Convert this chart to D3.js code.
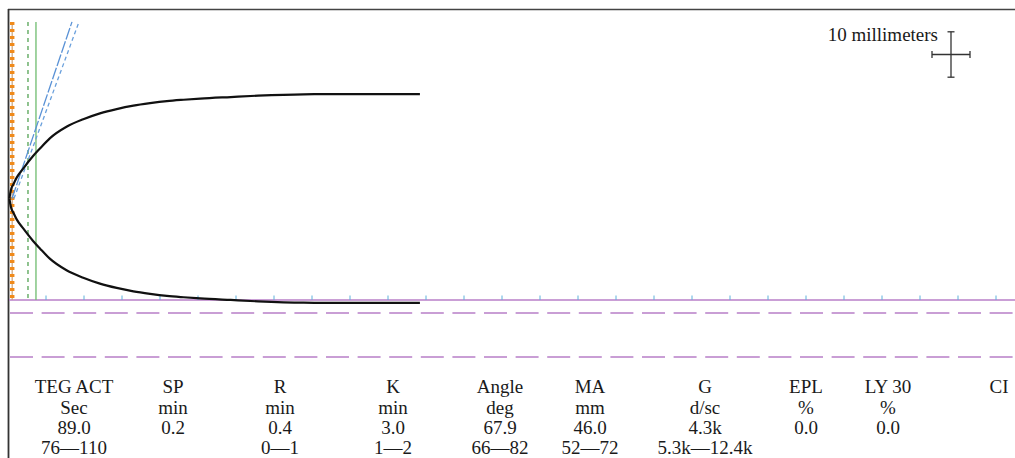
<!DOCTYPE html>
<html><head><meta charset="utf-8">
<script src="https://cdn.jsdelivr.net/npm/d3@7"></script>
<style>
html,body{margin:0;padding:0;background:#fff;}
svg{display:block;}
text{font-family:"Liberation Serif","Times New Roman",serif;fill:#1a1a1a;}
</style></head>
<body>
<svg id="chart" width="1015" height="458"></svg>
<script>
// ---- data ----
const times = [0.18, 0.4, 0.7, 1.14, 2.0, 3.3, 4.2, 5.5, 7.7, 9.9, 12.1, 14.3, 16.5, 18.7, 20.9, 23.1, 25.3, 29.3, 32.9, 38.9, 45.0, 54.2];
const amplitude = [0, 4.0, 6.2, 9.2, 13.2, 18.7, 22.0, 26.5, 31.6, 34.9, 37.5, 39.4, 40.9, 42.0, 42.9, 43.5, 44.0, 44.7, 45.3, 45.9, 46.0, 46.0];
const markerTimes = [0.55, 2.63, 3.68];            // R, K-dashed, K-solid markers
const tangentStart = [0.53, 0.79];                // time where angle lines start
const tangentEnd = [8.42, 9.34];                  // time where angle lines end
const tangentTop = 38.9;                          // mm reached by angle lines
const tickTimes = d3.range(5, 131, 5);
const paramNames = ["TEG ACT", "SP", "R", "K", "Angle", "MA", "G", "EPL", "LY 30", "CI"];
const paramUnits = ["Sec", "min", "min", "min", "deg", "mm", "d/sc", "%", "%", ""];
const paramValues = ["89.0", "0.2", "0.4", "3.0", "67.9", "46.0", "4.3k", "0.0", "0.0", ""];
const paramRanges = ["76\u2014110", "", "0\u20141", "1\u20142", "66\u201482", "52\u201472", "5.3k\u201412.4k", "", "", ""];
const scaleLabel = "10 millimeters";

// ---- scales ----
const svg = d3.select("#chart");
const x = d3.scaleLinear().domain([0, 5]).range([8, 46]);
const y = d3.scaleLinear().domain([-10, 10]).range([198.5 + 45.4, 198.5 - 45.4]);
const baseY = 300;
const W = 1015;

// frame
svg.append("line").attr("x1", 8).attr("x2", W).attr("y1", 9.5).attr("y2", 9.5)
  .attr("stroke", "#444").attr("stroke-width", 1.5);
svg.append("line").attr("x1", 8.5).attr("x2", 8.5).attr("y1", 9).attr("y2", 458)
  .attr("stroke", "#333").attr("stroke-width", 1.8);

// baseline and dashed guide lines
const purple = "#b87fc8";
svg.append("line").attr("x1", 9).attr("x2", W).attr("y1", baseY).attr("y2", baseY)
  .attr("stroke", purple).attr("stroke-width", 1.4);
[313, 357].forEach(yy => {
  svg.append("line").attr("x1", 10).attr("x2", W).attr("y1", yy).attr("y2", yy)
    .attr("stroke", purple).attr("stroke-width", 1.3).attr("stroke-dasharray", "23,8.6");
});
// ticks
svg.append("g").selectAll("line").data(tickTimes).join("line")
  .attr("x1", d => x(d)).attr("x2", d => x(d)).attr("y1", baseY - 4.5).attr("y2", baseY)
  .attr("stroke", "#5fb0dc").attr("stroke-width", 1);

// marker vertical lines
const yTop = y(tangentTop);
svg.append("line").attr("x1", x(markerTimes[0])).attr("x2", x(markerTimes[0])).attr("y1", yTop).attr("y2", baseY)
  .attr("stroke", "#c9a27a").attr("stroke-width", 1.2);
svg.append("line").attr("x1", x(markerTimes[0])).attr("x2", x(markerTimes[0])).attr("y1", yTop).attr("y2", baseY)
  .attr("stroke", "#f08a1a").attr("stroke-width", 4.5).attr("stroke-dasharray", "3,4");
svg.append("line").attr("x1", x(markerTimes[1])).attr("x2", x(markerTimes[1])).attr("y1", yTop).attr("y2", baseY)
  .attr("stroke", "#74b474").attr("stroke-width", 1.6).attr("stroke-dasharray", "4,4");
svg.append("line").attr("x1", x(markerTimes[2])).attr("x2", x(markerTimes[2])).attr("y1", yTop).attr("y2", baseY)
  .attr("stroke", "#78c078").attr("stroke-width", 1.4);

// angle tangent lines
svg.append("line").attr("x1", x(tangentStart[0])).attr("y1", y(0)).attr("x2", x(tangentEnd[0])).attr("y2", y(tangentTop))
  .attr("stroke", "#5a92d6").attr("stroke-width", 1.3).attr("stroke-dasharray", "12,2");
svg.append("line").attr("x1", x(tangentStart[1])).attr("y1", y(0)).attr("x2", x(tangentEnd[1])).attr("y2", y(tangentTop))
  .attr("stroke", "#6aa0dc").attr("stroke-width", 1.3).attr("stroke-dasharray", "4,3");

// TEG trace
const pts = times.map((t, i) => ({t, a: amplitude[i]}));
const upper = d3.line().x(d => x(d.t)).y(d => y(d.a / 2)).curve(d3.curveMonotoneX);
const lower = d3.line().x(d => x(d.t)).y(d => y(-d.a / 2)).curve(d3.curveMonotoneX);
svg.append("path").attr("d", upper(pts)).attr("fill", "none").attr("stroke", "#111").attr("stroke-width", 2.2);
svg.append("path").attr("d", lower(pts)).attr("fill", "none").attr("stroke", "#111").attr("stroke-width", 2.2);

// scale bar
const cx = 951, cy = 54.5;
const vLen = y(0) - y(10), hLen = x(5) - x(0);
const sb = svg.append("g").attr("stroke", "#333").attr("stroke-width", 1.3);
sb.append("line").attr("x1", cx).attr("x2", cx).attr("y1", cy - vLen / 2).attr("y2", cy + vLen / 2);
sb.append("line").attr("x1", cx - 3.5).attr("x2", cx + 3.5).attr("y1", cy - vLen / 2).attr("y2", cy - vLen / 2);
sb.append("line").attr("x1", cx - 3.5).attr("x2", cx + 3.5).attr("y1", cy + vLen / 2).attr("y2", cy + vLen / 2);
sb.append("line").attr("x1", cx - hLen / 2).attr("x2", cx + hLen / 2).attr("y1", cy).attr("y2", cy);
sb.append("line").attr("x1", cx - hLen / 2).attr("x2", cx - hLen / 2).attr("y1", cy - 3.5).attr("y2", cy + 3.5);
sb.append("line").attr("x1", cx + hLen / 2).attr("x2", cx + hLen / 2).attr("y1", cy - 3.5).attr("y2", cy + 3.5);
svg.append("text").attr("x", 938).attr("y", 41).attr("text-anchor", "end")
  .style("font-size", "19px").text(scaleLabel);

// parameter table
const colX = [74, 173, 280, 393, 500, 590, 705, 806, 888, 999];
const rowsY = [393, 414, 434, 454];
[paramNames, paramUnits, paramValues, paramRanges].forEach((row, r) => {
  svg.append("g").selectAll("text").data(row).join("text")
    .attr("x", (d, i) => colX[i]).attr("y", rowsY[r]).attr("text-anchor", "middle")
    .style("font-size", "19px").text(d => d);
});
</script>
</body></html>
